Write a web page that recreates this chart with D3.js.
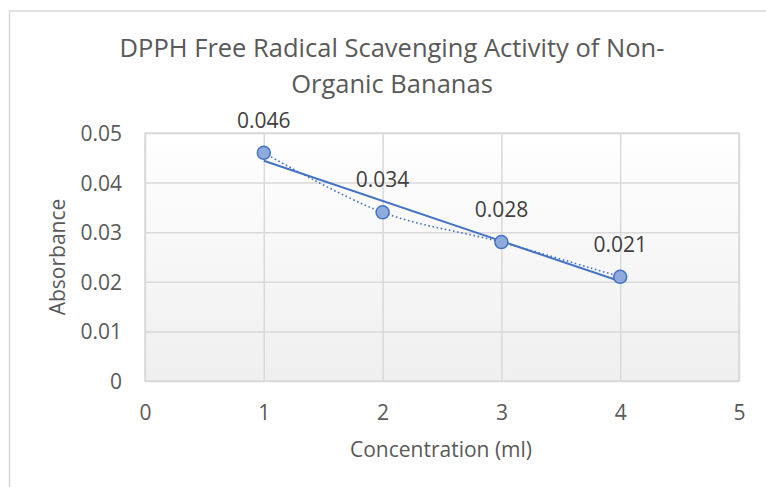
<!DOCTYPE html>
<html><head><meta charset="utf-8">
<script src="https://cdn.jsdelivr.net/npm/d3@7"></script>
<style>body{margin:0;background:#fff;} svg{display:block;}</style>
</head><body>
<svg id="c" width="766" height="487"></svg>
<script>
const titleLines = ["DPPH Free Radical Scavenging Activity of Non-", "Organic Bananas"];
const xTitle = "Concentration (ml)";
const yTitle = "Absorbance";
const concentration = [1, 2, 3, 4];
const absorbance = [0.046, 0.034, 0.028, 0.021];
const dataLabels = ["0.046", "0.034", "0.028", "0.021"];
const xTicks = [0, 1, 2, 3, 4, 5];
const yTicks = [0, 0.01, 0.02, 0.03, 0.04, 0.05];

const font = "'Open Sans', sans-serif";
const svg = d3.select("#c");
const L = 145, R = 739, T = 133, B = 381;
const x = d3.scaleLinear().domain([0, 5]).range([L, R]);
const y = d3.scaleLinear().domain([0, 0.05]).range([B, T]);

// outer chart border
svg.append("rect").attr("x", 9.5).attr("y", 11).attr("width", 800).attr("height", 500)
  .attr("fill", "#fff").attr("stroke", "#d9d9d9").attr("stroke-width", 1.5);

// plot background gradient
const defs = svg.append("defs");
const g = defs.append("linearGradient").attr("id", "bg").attr("x1", 0).attr("y1", 0).attr("x2", 0).attr("y2", 1);
g.append("stop").attr("offset", "0%").attr("stop-color", "#ffffff");
g.append("stop").attr("offset", "100%").attr("stop-color", "#efefef");
svg.append("rect").attr("x", L).attr("y", T).attr("width", R - L).attr("height", B - T).attr("fill", "url(#bg)");

// gridlines via axes
const gx = svg.append("g").attr("transform", `translate(0,${B})`)
  .call(d3.axisBottom(x).tickValues(xTicks).tickSize(-(B - T)).tickFormat(d3.format("d")));
const gy = svg.append("g").attr("transform", `translate(${L},0)`)
  .call(d3.axisLeft(y).tickValues(yTicks).tickSize(-(R - L)).tickFormat(d => d === 0 ? "0" : d3.format(".2f")(d)));
[gx, gy].forEach(a => {
  a.select(".domain").remove();
  a.selectAll(".tick line").attr("stroke", "#d9d9d9").attr("stroke-width", 1.5);
  a.selectAll(".tick text").attr("fill", "#595959").style("font-family", font).style("font-size", "21px");
});
gx.selectAll(".tick text").attr("dy", 0).attr("y", 39);
gy.selectAll(".tick text").attr("x", -23).attr("dy", "0.36em");
svg.append("rect").attr("x", L).attr("y", T).attr("width", R - L).attr("height", B - T)
  .attr("fill", "none").attr("stroke", "#d9d9d9").attr("stroke-width", 1.5);

const pts = concentration.map((c, i) => [c, absorbance[i]]);

// smoothed dotted series line
svg.append("path").datum(pts)
  .attr("d", d3.line().x(d => x(d[0])).y(d => y(d[1])).curve(d3.curveCatmullRom.alpha(0.5)))
  .attr("fill", "none").attr("stroke", "#4472c4").attr("stroke-width", 1.6)
  .attr("stroke-dasharray", "1.6,2.6");

// linear trendline (least squares)
const mx = d3.mean(concentration), my = d3.mean(absorbance);
const slope = d3.sum(pts, d => (d[0] - mx) * (d[1] - my)) / d3.sum(pts, d => (d[0] - mx) ** 2);
const icpt = my - slope * mx;
const xr = d3.extent(concentration);
svg.append("path").datum(xr.map(v => [v, icpt + slope * v]))
  .attr("d", d3.line().x(d => x(d[0])).y(d => y(d[1])))
  .attr("fill", "none").attr("stroke", "#4472c4").attr("stroke-width", 2);

// markers
svg.append("g").selectAll("circle").data(pts).join("circle")
  .attr("cx", d => x(d[0])).attr("cy", d => y(d[1])).attr("r", 6.5)
  .attr("fill", "#8faadc").attr("stroke", "#4472c4").attr("stroke-width", 1.5);

// data labels
svg.append("g").selectAll("text").data(pts).join("text")
  .attr("x", d => x(d[0])).attr("y", d => y(d[1]) - 25)
  .attr("text-anchor", "middle").attr("fill", "#404040")
  .style("font-family", font).style("font-size", "21px")
  .text((d, i) => dataLabels[i]);

// title
svg.append("g").selectAll("text").data(titleLines).join("text")
  .attr("x", 392).attr("y", (d, i) => 57 + i * 36)
  .attr("text-anchor", "middle").attr("fill", "#595959")
  .style("font-family", font).style("font-size", "25.5px")
  .text(d => d);

// axis titles
svg.append("text").attr("x", 441).attr("y", 457).attr("text-anchor", "middle")
  .attr("fill", "#595959").style("font-family", font).style("font-size", "21px").text(xTitle);
svg.append("text").attr("transform", `translate(65,${(T + B) / 2}) rotate(-90)`).attr("text-anchor", "middle")
  .attr("fill", "#595959").style("font-family", font).style("font-size", "21px").text(yTitle);
</script>
</body></html>
